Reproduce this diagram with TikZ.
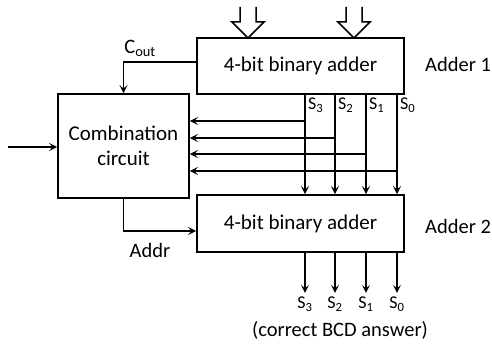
\documentclass[tikz,border=0pt]{standalone}
\usepackage{fontspec}
\setmainfont{Carlito}
\usetikzlibrary{arrows.meta}
\begin{document}
\begin{tikzpicture}[x=1pt,y=-1pt,
  blk/.style={draw,line width=1.9pt,inner sep=0pt,font=\fontsize{21}{24.5}\selectfont,align=center},
  wire/.style={line width=1.5pt},
  arr/.style={wire,-{Stealth[length=8pt,width=8pt,inset=3.5pt]}},
  lbl/.style={font=\fontsize{20.5}{24}\selectfont,inner sep=0pt},
  slbl/.style={font=\fontsize{18}{21}\selectfont,inner sep=0pt},
  bigarr/.style={line width=1.5pt,line join=miter}]
\useasboundingbox (0,0) rectangle (492,347);
% blocks
\node[blk,minimum width=207pt,minimum height=56pt] (a1) at (300.5,66) {4-bit binary adder};
\node[blk,minimum width=207pt,minimum height=57pt] (a2) at (300.5,223.5) {4-bit binary adder};
\node[blk,minimum width=131pt,minimum height=104pt] (comb) at (123.5,146) {Combination\\circuit};
% labels
\node[lbl,anchor=west] (l1) at (425,64) {Adder 1};
\node[lbl,anchor=west] (l2) at (425,226) {Adder 2};
\node[lbl] (cout) at (140,48) {C\textsubscript{out}};
\node[lbl] (addr) at (150,250) {Addr};
\node[lbl] (bcd) at (340,330) {(correct BCD answer)};
% bus x positions
\coordinate (x3) at (305,0);
\coordinate (x2) at (335,0);
\coordinate (x1) at (366,0);
\coordinate (x0) at (397,0);
% big hollow input arrows
\draw[bigarr] (240,7) -- (240,22) -- (232,22) -- (248,38) -- (264,22) -- (256,22) -- (256,7);
\draw[bigarr] (346,7) -- (346,22) -- (338,22) -- (354,38) -- (370,22) -- (362,22) -- (362,7);
% Cout
\draw[arr] ([yshift=4pt]a1.west) -| (comb.north);
% external input
\coordinate (in) at (8,147);
\draw[arr] (in) -- (comb.west |- in);
% Addr
\draw[arr] (comb.south) |- ([yshift=-7.5pt]a2.west);
% sum bits between adders
\foreach \i/\h in {3/121,2/138,1/154,0/171}{
  \draw[arr] (a1.south -| x\i) -- (a2.north -| x\i);
  \coordinate (h\i) at (x\i |- 0,\h);
  \draw[arr] (h\i) -- (comb.east |- h\i);
  \node[slbl,anchor=west] (st\i) at ([xshift=3pt,yshift=-10pt]a1.south -| x\i) {S\textsubscript{\i}};
  \draw[arr] (a2.south -| x\i) -- ++(0,40) coordinate (o\i);
  \node[slbl,anchor=north] (sb\i) at ([yshift=-4pt]o\i) {S\textsubscript{\i}};
}
\end{tikzpicture}
\end{document}
